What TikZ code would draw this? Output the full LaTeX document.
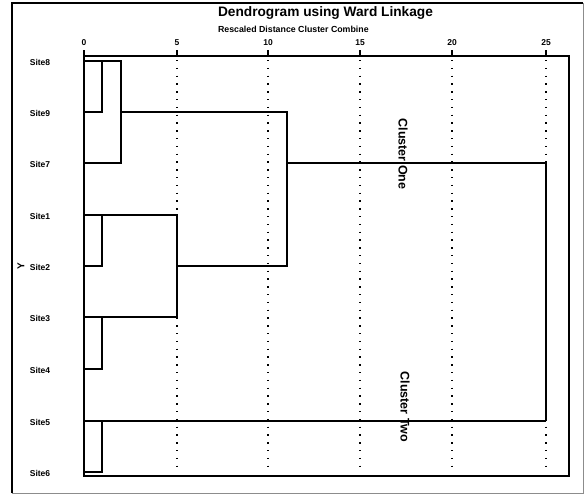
\documentclass[tikz,border=0pt]{standalone}
\usepackage{fontspec}
\setmainfont{Liberation Sans}
\begin{document}
\begin{tikzpicture}[x=1pt,y=-1pt,font=\bfseries\fontsize{8.5}{9}\selectfont,line width=1.4pt,
  grid/.style={line width=1.1pt,dash pattern=on 1.4pt off 6.4pt},
  frame/.style={line width=2pt}]
  \useasboundingbox (0,0) rectangle (585,495);
  \draw[line width=1.2pt] (12,493) -- (12,3) -- (583,3);
  \draw[line width=1pt,black!45] (583,3) -- (583,493) -- (12,493);
  \node[anchor=west,font=\bfseries\fontsize{13.7}{14}\selectfont] (title) at (214,13) {Dendrogram using Ward Linkage};
  \node[anchor=west,font=\bfseries\fontsize{8.8}{9}\selectfont] (sub) at (214,29) {Rescaled Distance Cluster Combine};
  \foreach \v/\x in {0/84,5/177,10/268,15/360,20/452,25/546} {
    \node (t\v) at (\x,43) {\v};
    \draw[line width=1.2pt] (\x,50) -- (\x,56);
  }
  \foreach \x in {177,268,360,452,546}
    \draw[grid] (\x,60) -- (\x,468);
  \foreach \n/\y in {8/61,9/112,7/163,1/215,2/266,3/317,4/369,5/421,6/472} {
    \node (s\n) at (40,\y+1) {Site\n};
    \coordinate (l\n) at (84,\y);
  }
  \node[rotate=90,inner sep=0pt,font=\bfseries\fontsize{10}{10}\selectfont] (yax) at (21,266) {Y};
  \coordinate (a) at (102,0);
  \coordinate (b) at (121,0);
  \coordinate (c) at (177,0);
  \coordinate (d) at (287,0);
  \coordinate (e) at (546,0);
  \draw (l8) -| (a |- l9) -- (l9);
  \draw (l8) -| (b |- l7) -- (l7);
  \draw (b |- l9) -| (d |- l2) -- (c |- l2);
  \draw (l1) -| (a |- l2) -- (l2);
  \draw (l1) -| (c |- l3) -- (l3);
  \draw (l3) -| (a |- l4) -- (l4);
  \draw (l5) -| (a |- l6) -- (l6);
  \draw (e |- l5) -- (l5);
  \draw[line width=1.9pt] (d |- l7) -| (e |- l5);
  \draw[frame] (84,56) rectangle (569,476);
  \node[rotate=-90,font=\bfseries\fontsize{12.5}{13}\selectfont] (one) at (403,154) {Cluster One};
  \node[rotate=-90,font=\bfseries\fontsize{12.5}{13}\selectfont] (two) at (405,407) {Cluster Two};
\end{tikzpicture}
\end{document}
